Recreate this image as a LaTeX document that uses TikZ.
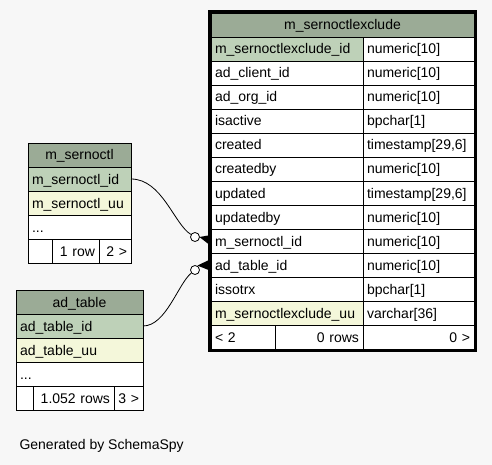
\documentclass[tikz,border=0pt]{standalone}
\usepackage{fontspec}
\setmainfont{Liberation Sans}
\definecolor{bgcol}{HTML}{F7F7F7}
\definecolor{headcol}{HTML}{9BAB96}
\definecolor{pkcol}{HTML}{BED1B8}
\definecolor{uucol}{HTML}{F4F7DA}
\tikzset{
  cell/.style = {draw=black, rectangle, anchor=north west, fill=white,
    line width=0.8pt, minimum height=24pt, inner xsep=4pt, inner ysep=0pt,
    outer sep=0pt, text height=11pt, text depth=1pt,
    font=\fontsize{14}{16}\selectfont},% one cell of a table
  cell_l/.style = {cell, text width=#1, align=left},
  cell_r/.style = {cell, text width=#1, align=right},
  cell_h/.style = {cell, text width=#1, align=center, fill=headcol},% table name
  tbl_frame/.style = {draw=black, line width=3pt},% frame of the focused table
  er_dot/.style = {circle, draw=black, fill=white, line width=0.8pt,
    inner sep=0pt, minimum size=9pt},% the open circle of a link
  er_line/.style = {draw=black, line width=0.8pt}
}

\begin{document}
\begin{tikzpicture}[x=1pt, y=-1pt]
\fill[bgcol] (0,0) rectangle (492,465);
\useasboundingbox (0,0) rectangle (492,465);

% m_sernoctlexclude
\node [cell_h=255pt] (exc) at (211,13) {m\_sernoctlexclude};
\foreach \nm/\ty/\fc [count=\row] in {
    m\_sernoctlexclude\_id/numeric[10]/pkcol,
    ad\_client\_id/numeric[10]/white,
    ad\_org\_id/numeric[10]/white,
    isactive/bpchar[1]/white,
    created/{timestamp[29,6]}/white,
    createdby/numeric[10]/white,
    updated/{timestamp[29,6]}/white,
    updatedby/numeric[10]/white,
    m\_sernoctl\_id/numeric[10]/white,
    ad\_table\_id/numeric[10]/white,
    issotrx/bpchar[1]/white,
    m\_sernoctlexclude\_uu/varchar[36]/uucol}{
  \node [cell_l=144pt, fill=\fc] (exc-\row-n) at (211,{13+24*\row}) {\nm};
  \node [cell_l=103pt] (exc-\row-t) at (363,{13+24*\row}) {\ty};
}
\node [cell_l=56pt] (exc-ft1) at (211,325) {< 2};
\node [cell_r=80pt] (exc-ft2) at (275,325) {0 rows};
\node [cell_r=103pt] (exc-ft3) at (363,325) {0 >};
\draw [tbl_frame] ([shift={(-1.5pt,1.5pt)}]exc.north west) rectangle
  ([shift={(1.5pt,-1.5pt)}]exc-ft3.south east);

% m_sernoctl
\node [cell_h=95pt] (msn) at (28,143) {m\_sernoctl};
\node [cell_l=95pt, fill=pkcol] (msn-id) at (28,167) {m\_sernoctl\_id};
\node [cell_l=95pt, fill=uucol] (msn-uu) at (28,191) {m\_sernoctl\_uu};
\node [cell_l=95pt] (msn-more) at (28,215) {...};
\node [cell_l=16pt] (msn-ft1) at (28,239) {};
\node [cell_r=39pt] (msn-ft2) at (52,239) {1 row};
\node [cell_r=24pt] (msn-ft3) at (99,239) {2 >};

% ad_table
\node [cell_h=119pt] (adt) at (16,290) {ad\_table};
\node [cell_l=119pt, fill=pkcol] (adt-id) at (16,314) {ad\_table\_id};
\node [cell_l=119pt, fill=uucol] (adt-uu) at (16,338) {ad\_table\_uu};
\node [cell_l=119pt] (adt-more) at (16,362) {...};
\node [cell_l=9pt] (adt-ft1) at (16,386) {};
\node [cell_r=73pt] (adt-ft2) at (33,386) {1.052 rows};
\node [cell_r=21pt] (adt-ft3) at (114,386) {3 >};

% links
\node [er_dot] (d1) at (195,237) {};
\node [er_dot] (d2) at (195,270) {};
\draw [er_line] (msn-id.east) .. controls (162,179) and (174,224) .. (d1);
\draw [er_line] (adt-id.east) .. controls (166,326) and (178,284) .. (d2);
\fill ([xshift=-0.5pt]d1.east) -- ([yshift=6pt]exc-9-n.west)
  -- ([yshift=-5pt]exc-9-n.west) -- cycle;
\fill ([shift={(-1pt,1pt)}]d2.north east) -- ([yshift=6pt]exc-10-n.west)
  -- ([yshift=-6pt]exc-10-n.west) -- cycle;

\node [anchor=base west, font=\fontsize{14}{16}\selectfont] (gen) at (16,449)
  {Generated by SchemaSpy};
\end{tikzpicture}
\end{document}
